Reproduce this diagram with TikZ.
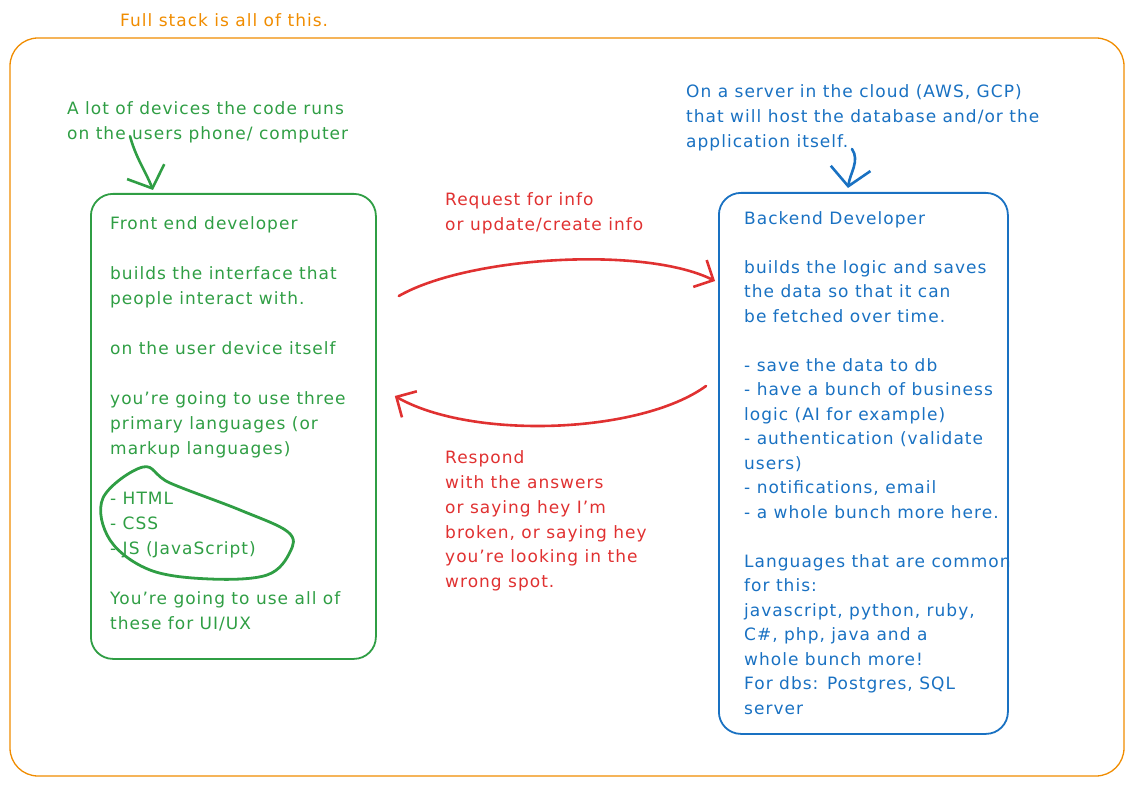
\documentclass[tikz,border=0pt]{standalone}
\usepackage{fontspec}
\setmainfont[LetterSpace=6]{DejaVu Sans}
\usetikzlibrary{arrows.meta,positioning}
\definecolor{sketchgreen}{HTML}{2F9E44}
\definecolor{sketchblue}{HTML}{1971C2}
\definecolor{sketchred}{HTML}{E03131}
\definecolor{sketchorange}{HTML}{F08C00}
\begin{document}
\begin{tikzpicture}[x=1pt,y=-1pt,
    note/.style={anchor=north west, inner sep=0pt, align=left, font=\fontsize{17}{24.8}\selectfont},
    card/.style={draw, line width=1.8pt, rounded corners=22pt, anchor=north west, inner sep=0pt},
    sketch/.style={line width=2.6pt, line cap=round, line join=round},
    bigbarb/.style={-{Straight Barb[length=18pt,width=40pt]}},
    smallbarb/.style={-{Straight Barb[length=15pt,width=30pt]}}]
    \useasboundingbox (0,0) rectangle (1133,786);
    % outer frame
    \draw[sketchorange, line width=1.3pt, rounded corners=28pt] (10,38) rectangle (1124,776);
    \node[note, sketchorange] (title) at (120,13.5) {Full stack is all of this.};

    % front end side
    \node[note, sketchgreen] (devices) at (67,101.5) {A lot of devices the code runs\\on the users phone/ computer};
    \node[card, sketchgreen, minimum width=285pt, minimum height=465pt] (front) at (90,193) {};
    \node[note, sketchgreen, font=\fontsize{17}{25}\selectfont] (fronttext) at ([shift={(20,23.5)}]front.north west) {%
        Front end developer\\[\baselineskip]
        builds the interface that\\people interact with.\\[\baselineskip]
        on the user device itself\\[\baselineskip]
        you're going to use three\\primary languages (or\\markup languages)\\[\baselineskip]
        - HTML\\- CSS\\- JS (JavaScript)\\[\baselineskip]
        You're going to use all of\\these for UI/UX};
    \draw[sketch, sketchgreen, bigbarb] ([shift={(63,-7)}]devices.south west)
        .. controls +(6,22) and +(-8,-20) .. ([shift={(63,-3)}]front.north west);
    % loop round the three languages
    \draw[sketch, sketchgreen, line width=2.8pt] plot[smooth cycle, tension=0.6] coordinates {
        (103,498) (143,467) (170,483) (240,510) (288,532) (290,552)
        (267,575) (210,579) (150,570) (110,540)};

    % backend side
    \node[note, sketchblue] (cloud) at (686,84.5) {On a server in the cloud (AWS, GCP)\\that will host the database and/or the\\application itself.};
    \node[card, sketchblue, minimum width=289pt, minimum height=541pt] (back) at (718,192) {};
    \node[note, sketchblue, font=\fontsize{17}{24.5}\selectfont] (backtext) at ([shift={(26,19)}]back.north west) {%
        Backend Developer\\[\baselineskip]
        builds the logic and saves\\the data so that it can\\be fetched over time.\\[\baselineskip]
        - save the data to db\\- have a bunch of business\\logic (AI for example)\\
        - authentication (validate\\users)\\- notifications, email\\- a whole bunch more here.\\[\baselineskip]
        Languages that are common\\for this:\\javascript, python, ruby,\\C\#, php, java and a\\
        whole bunch more!\\For dbs: Postgres, SQL\\server};
    \draw[sketch, sketchblue, bigbarb] ([shift={(166,-2)}]cloud.south west)
        .. controls +(8,12) and +(2,-15) .. ([shift={(130,-4)}]back.north west);

    % requests and responses
    \node[note, sketchred] (request) at (445,192.5) {Request for info\\or update/create info};
    \draw[sketch, sketchred, smallbarb] ([shift={(22,103)}]front.north east)
        .. controls +(70,-40) and +(-70,-35) .. ([shift={(-3,89)}]back.north west);
    \node[note, sketchred] (respond) at (445,450.5) {Respond\\with the answers\\or saying hey I'm\\broken, or saying hey\\you're looking in the\\wrong spot.};
    \draw[sketch, sketchred, smallbarb] ([shift={(-12,194)}]back.north west)
        .. controls +(-66,48) and +(77,44) .. ([shift={(18,203)}]front.north east);
\end{tikzpicture}
\end{document}
